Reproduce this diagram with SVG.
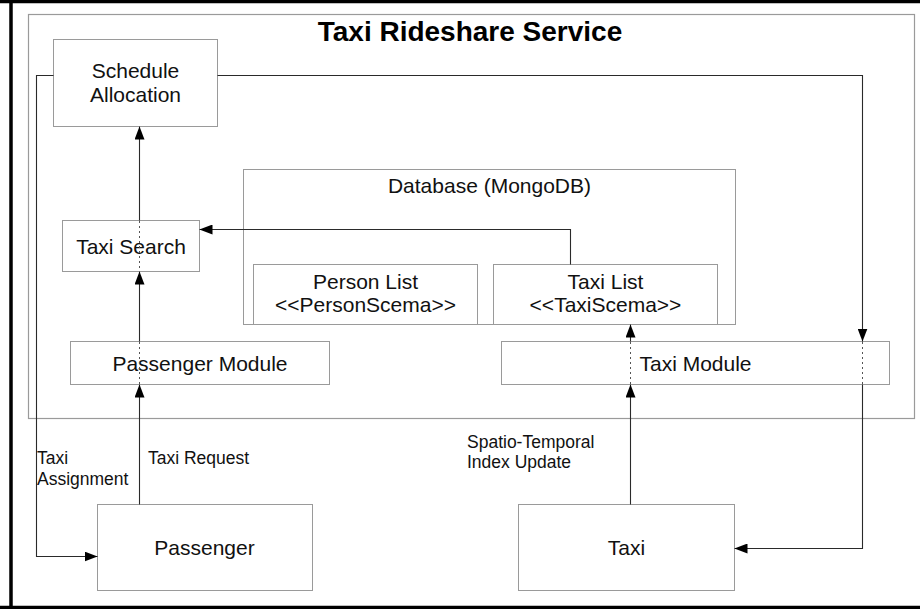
<svg xmlns="http://www.w3.org/2000/svg" width="920" height="609" viewBox="0 0 920 609">
  <style>
    .box { fill: #ffffff; stroke: #9a9a9a; stroke-width: 1; }
    .frame { fill: none; stroke: #9a9a9a; stroke-width: 1.2; }
    .conn { fill: none; stroke: #2a2a2a; stroke-width: 1.1; }
    .hidden { fill: none; stroke: #555555; stroke-width: 1; stroke-dasharray: 2 3; }
    .t { font-family: "Liberation Sans", Arial, sans-serif; font-size: 21px; fill: #111111; text-anchor: middle; }
    .lbl { font-family: "Liberation Sans", Arial, sans-serif; font-size: 17.5px; fill: #111111; }
    .title { font-family: "Liberation Sans", Arial, sans-serif; font-size: 28px; font-weight: bold; fill: #000000; text-anchor: middle; }
  </style>
  <defs>
    <marker id="arrow" viewBox="0 0 13 10" refX="13" refY="5" markerWidth="13" markerHeight="10" markerUnits="userSpaceOnUse" orient="auto">
      <path d="M0,0 L13,5 L0,10 Z" fill="#000000"/>
    </marker>
  </defs>

  <rect x="0" y="0" width="920" height="609" fill="#ffffff"/>

  <!-- outer black frame (right side falls outside the canvas) -->
  <path d="M0,1.5 H920 M11,0 V609 M0,607.5 H920" fill="none" stroke="#000000" stroke-width="3.5"/>

  <!-- service boundary -->
  <g id="service">
    <rect class="frame" x="28.5" y="14.5" width="886" height="404"/>
    <text class="title" x="470" y="41">Taxi Rideshare Service</text>
  </g>

  <g id="database">
    <rect class="box" x="243.5" y="169.5" width="492" height="155"/>
    <text class="t" x="489.5" y="193">Database (MongoDB)</text>
  </g>

  <g id="person-list">
    <rect class="box" x="253.5" y="264.5" width="224" height="60"/>
    <text class="t" x="365.5" y="289">Person List</text>
    <text class="t" x="365.5" y="312">&lt;&lt;PersonScema&gt;&gt;</text>
  </g>

  <g id="taxi-list">
    <rect class="box" x="493.5" y="264.5" width="224" height="60"/>
    <text class="t" x="605.5" y="289">Taxi List</text>
    <text class="t" x="605.5" y="312">&lt;&lt;TaxiScema&gt;&gt;</text>
  </g>

  <g id="schedule-allocation">
    <rect class="box" x="53.5" y="39.5" width="164" height="87"/>
    <text class="t" x="135.5" y="78">Schedule</text>
    <text class="t" x="135.5" y="102">Allocation</text>
  </g>

  <g id="taxi-search">
    <rect class="box" x="62.5" y="220.5" width="137" height="51"/>
    <text class="t" x="131" y="253.5">Taxi Search</text>
  </g>

  <g id="passenger-module">
    <rect class="box" x="70.5" y="341.5" width="259" height="43"/>
    <text class="t" x="200" y="370.5">Passenger Module</text>
  </g>

  <g id="taxi-module">
    <rect class="box" x="501.5" y="341.5" width="388" height="43"/>
    <text class="t" x="695.5" y="370.5">Taxi Module</text>
  </g>

  <g id="passenger">
    <rect class="box" x="97.5" y="504.5" width="215" height="86"/>
    <text class="t" x="204.5" y="555">Passenger</text>
  </g>

  <g id="taxi">
    <rect class="box" x="518.5" y="504.5" width="216" height="86"/>
    <text class="t" x="626.5" y="555">Taxi</text>
  </g>

  <g id="connectors">
    <!-- lines seen through the boxes they cross -->
    <path class="hidden" d="M139.5,221 V271 M139.5,342 V384 M630.5,342 V384 M862.5,342 V384"/>

    <path class="conn" marker-end="url(#arrow)" d="M139.5,220.5 V126.5"/>
    <path class="conn" marker-end="url(#arrow)" d="M139.5,341.5 V271.5"/>
    <path class="conn" marker-end="url(#arrow)" d="M139.5,504.5 V384.5"/>
    <path class="conn" marker-end="url(#arrow)" d="M570.5,264.5 V229.5 H199.5"/>
    <path class="conn" marker-end="url(#arrow)" d="M630.5,341.5 V324.5"/>
    <path class="conn" marker-end="url(#arrow)" d="M630.5,504.5 V384.5"/>
    <path class="conn" marker-end="url(#arrow)" d="M217.5,75.5 H862.5 V341.5"/>
    <path class="conn" marker-end="url(#arrow)" d="M862.5,384.5 V548.5 H734.5"/>
    <path class="conn" marker-end="url(#arrow)" d="M53.5,75.5 H36.5 V556.5 H97.5"/>

    <text class="lbl" x="37" y="464">Taxi</text>
    <text class="lbl" x="37" y="485">Assignment</text>
    <text class="lbl" x="148" y="464">Taxi Request</text>
    <text class="lbl" x="467" y="448">Spatio-Temporal</text>
    <text class="lbl" x="467" y="468">Index Update</text>
  </g>
</svg>
